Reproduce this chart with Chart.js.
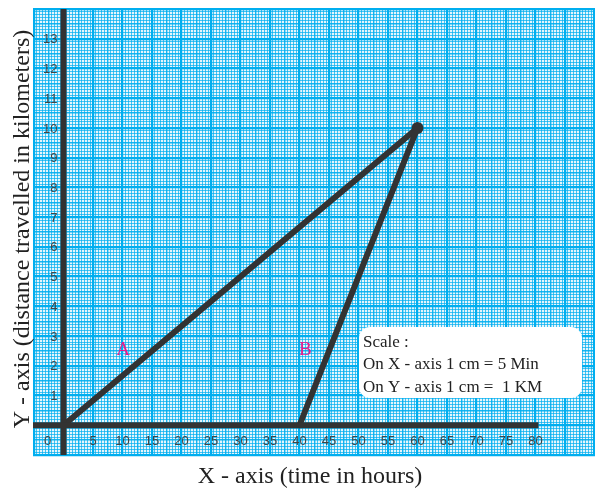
<!DOCTYPE html>
<html>
<head>
<meta charset="utf-8">
<script src="https://cdn.jsdelivr.net/npm/chart.js@4/dist/chart.umd.min.js"></script>
<style>
html, body { margin: 0; padding: 0; background: #fff; overflow: hidden; }
canvas { display: block; }
</style>
</head>
<body>
<canvas id="c" width="595" height="488"></canvas>
<script>
// journey lines (x = time, y = distance)
var lineA = [{x: 0, y: 0}, {x: 60, y: 10}];
var lineB = [{x: 40, y: 0}, {x: 60, y: 10}];
// the two dark axes drawn on the paper
var xAxisLine = [{x: -5.2, y: 0}, {x: 80.5, y: 0}];
var yAxisLine = [{x: 0, y: -1}, {x: 0, y: 14}];

var xTickLabels = [0, 5, 10, 15, 20, 25, 30, 35, 40, 45, 50, 55, 60, 65, 70, 75, 80];
var yTickLabels = [1, 2, 3, 4, 5, 6, 7, 8, 9, 10, 11, 12, 13];
var lineNames = ['A', 'B'];
var lineNamePos = [{x: 10.1, y: 2.53}, {x: 41, y: 2.53}];
var scaleNotes = ['Scale :', 'On X - axis 1 cm = 5 Min', 'On Y - axis 1 cm =  1 KM'];

var xTitle = 'X - axis (time in hours)';
var yTitle = 'Y - axis (distance travelled in kilometers)';

var DARK = '#333333';
var BLUE = 'rgb(0,174,239)';

function gridStyle(k, major, medium) {
    if (k % major === 0) return {c: BLUE, w: 2.2};
    if (k % medium === 0) return {c: 'rgba(0,174,239,0.9)', w: 1.4};
    return {c: 'rgba(0,174,239,0.7)', w: 1};
}

var paperPlugin = {
    id: 'paper',
    beforeDraw: function(chart) {
        var a = chart.chartArea, ctx = chart.ctx;
        ctx.save();
        ctx.fillStyle = 'rgb(228,245,252)';
        ctx.fillRect(a.left, a.top, a.right - a.left, a.bottom - a.top);
        ctx.restore();
    },
    afterDraw: function(chart) {
        var ctx = chart.ctx, xs = chart.scales.x, ys = chart.scales.y;
        var x0 = xs.getPixelForValue(0), y0 = ys.getPixelForValue(0);
        ctx.save();

        // tick labels inside the paper
        ctx.font = '13px "Liberation Sans", Arial, sans-serif';
        ctx.fillStyle = '#444';
        ctx.textAlign = 'center';
        ctx.textBaseline = 'middle';
        xTickLabels.forEach(function(v) {
            var px = xs.getPixelForValue(v);
            if (v === 0) px -= 16;
            ctx.fillText(String(v), px, y0 + 16);
        });
        ctx.textAlign = 'right';
        yTickLabels.forEach(function(v) {
            ctx.fillText(String(v), x0 - 6, ys.getPixelForValue(v) + 1);
        });

        // line names
        ctx.font = '19px "Liberation Serif", "Times New Roman", serif';
        ctx.fillStyle = 'rgb(228,30,140)';
        ctx.textAlign = 'center';
        lineNames.forEach(function(n, i) {
            ctx.fillText(n, xs.getPixelForValue(lineNamePos[i].x), ys.getPixelForValue(lineNamePos[i].y));
        });

        // scale box
        var bx = 359, by = 327, bw = 223, bh = 71, r = 11;
        ctx.fillStyle = '#ffffff';
        ctx.beginPath();
        ctx.roundRect(bx, by, bw, bh, r);
        ctx.fill();
        ctx.font = '17px "Liberation Serif", "Times New Roman", serif';
        ctx.fillStyle = '#222';
        ctx.textAlign = 'left';
        ctx.textBaseline = 'alphabetic';
        var baselines = [347, 369, 392];
        scaleNotes.forEach(function(t, i) {
            ctx.fillText(t, bx + 4, baselines[i]);
        });

        // axis titles
        ctx.font = '24px "Liberation Serif", "Times New Roman", serif';
        ctx.fillStyle = '#222';
        ctx.textAlign = 'center';
        ctx.fillText(xTitle, 310, 483);
        ctx.translate(29, 229);
        ctx.rotate(-Math.PI / 2);
        ctx.fillText(yTitle, 0, 0);
        ctx.restore();
    }
};

var darkLine = {
    borderColor: DARK,
    backgroundColor: DARK,
    borderWidth: 6,
    pointRadius: 0,
    showLine: true,
    fill: false
};

new Chart(document.getElementById('c').getContext('2d'), {
    type: 'scatter',
    data: {
        datasets: [
            Object.assign({}, darkLine, {data: xAxisLine}),
            Object.assign({}, darkLine, {data: yAxisLine}),
            Object.assign({}, darkLine, {data: lineB, borderCapStyle: 'round'}),
            Object.assign({}, darkLine, {data: lineA, borderCapStyle: 'round', pointRadius: [0, 6], pointBackgroundColor: DARK, pointBorderWidth: 0})
        ]
    },
    plugins: [paperPlugin],
    options: {
        responsive: false,
        animation: false,
        layout: {autoPadding: false, padding: {left: 33, top: 9, right: 0, bottom: 33}},
        plugins: {
            legend: {display: false},
            tooltip: {enabled: false}
        },
        scales: {
            x: {
                type: 'linear',
                min: -5.17,
                max: 90.08,
                afterBuildTicks: function(scale) {
                    var t = [];
                    for (var k = -10; k <= 180; k++) t.push({value: k / 2});
                    scale.ticks = t;
                },
                ticks: {display: false},
                border: {display: false},
                grid: {
                    drawTicks: false,
                    color: function(ctx) { return gridStyle(Math.round(ctx.tick.value * 2), 10, 5).c; },
                    lineWidth: function(ctx) { return gridStyle(Math.round(ctx.tick.value * 2), 10, 5).w; }
                }
            },
            y: {
                type: 'linear',
                min: -1,
                max: 14,
                afterBuildTicks: function(scale) {
                    var t = [];
                    for (var k = -10; k <= 140; k++) t.push({value: k / 10});
                    scale.ticks = t;
                },
                ticks: {display: false},
                border: {display: false},
                grid: {
                    drawTicks: false,
                    color: function(ctx) { return gridStyle(Math.round(ctx.tick.value * 10), 10, 5).c; },
                    lineWidth: function(ctx) { return gridStyle(Math.round(ctx.tick.value * 10), 10, 5).w; }
                }
            }
        }
    }
});
</script>
</body>
</html>
